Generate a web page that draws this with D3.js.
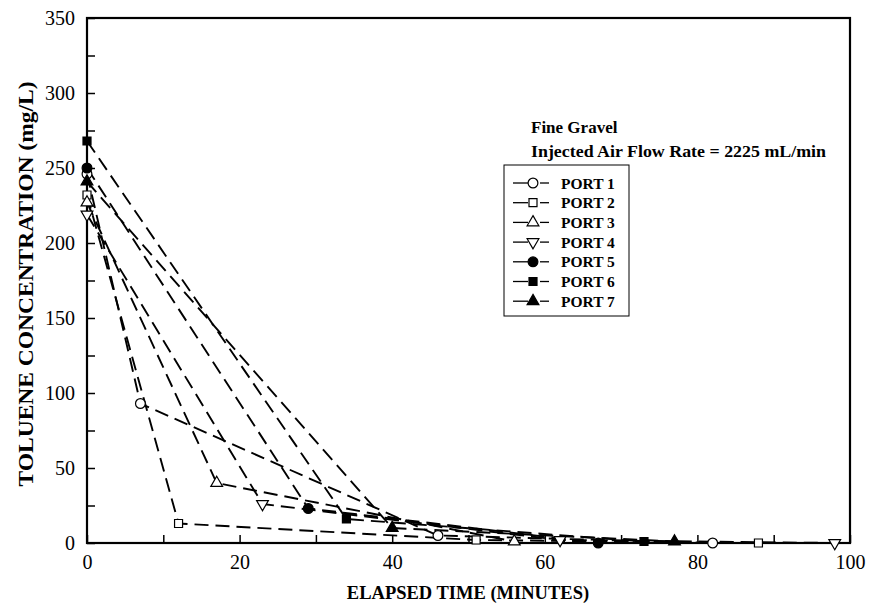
<!DOCTYPE html>
<html>
<head>
<meta charset="utf-8">
<script src="https://cdn.jsdelivr.net/npm/d3@7"></script>
<style>
  body { margin: 0; background: #fff; }
  text { font-family: "Liberation Serif", "Times New Roman", serif; fill: #000; }
</style>
</head>
<body>
<div id="chart"></div>
<script>
// toluene concentration (mg/L) vs elapsed time (minutes), per port
var ports = ["PORT 1", "PORT 2", "PORT 3", "PORT 4", "PORT 5", "PORT 6", "PORT 7"];
var port1 = [[0, 246], [7, 93], [46, 5], [82, 0]];
var port2 = [[0, 232], [12, 13], [51, 2], [88, 0]];
var port3 = [[0, 227], [17, 40], [56, 1]];
var port4 = [[0, 219], [23, 26], [62, 2], [98, 0]];
var port5 = [[0, 250], [29, 23], [67, 0]];
var port6 = [[0, 268], [34, 16], [73, 1]];
var port7 = [[0, 241], [40, 10], [77, 1]];
var xTicks = [0, 20, 40, 60, 80, 100];
var yTicks = [0, 50, 100, 150, 200, 250, 300, 350];

var series = [port1, port2, port3, port4, port5, port6, port7];
// marker shape + filled?
var markers = [
  {s: d3.symbolCircle, f: false}, {s: d3.symbolSquare, f: false},
  {s: d3.symbolTriangle, f: false}, {s: "down", f: false},
  {s: d3.symbolCircle, f: true}, {s: d3.symbolSquare, f: true},
  {s: d3.symbolTriangle, f: true}
];

var width = 869, height = 606;
var svg = d3.select("#chart").append("svg")
  .attr("width", width)
  .attr("height", height);

var x = d3.scaleLinear().domain([0, 100]).range([87, 850]);
var y = d3.scaleLinear().domain([0, 350]).range([543, 18]);

function symbolPath(m, size) {
  if (m.s === "down") return d3.symbol(d3.symbolTriangle, size)();
  return d3.symbol(m.s, size)();
}
function drawMarker(g, m, cx, cy) {
  var size = m.s === d3.symbolSquare ? 64 : (m.s === d3.symbolCircle ? 75 : 60);
  g.append("path")
    .attr("d", symbolPath(m, size))
    .attr("transform", "translate(" + cx + "," + cy + ")" + (m.s === "down" ? " rotate(180)" : ""))
    .attr("fill", m.f ? "#000" : "#fff")
    .attr("stroke", "#000")
    .attr("stroke-width", 1.2);
}

// frame
svg.append("rect")
  .attr("x", 87).attr("y", 18)
  .attr("width", 850 - 87).attr("height", 543 - 18)
  .attr("fill", "none").attr("stroke", "#000").attr("stroke-width", 2.2);

// axes (ticks pointing inward)
var xAxis = svg.append("g")
  .attr("transform", "translate(0,543)")
  .call(d3.axisTop(x).tickValues(d3.range(0, 101, 10)).tickSize(8).tickFormat(""));
var xLab = svg.append("g")
  .attr("transform", "translate(0,543)")
  .call(d3.axisBottom(x).tickValues(xTicks).tickSize(0).tickPadding(12));
var yAxis = svg.append("g")
  .attr("transform", "translate(87,0)")
  .call(d3.axisRight(y).tickValues(d3.range(0, 351, 25)).tickSize(8).tickFormat(""));
var yLab = svg.append("g")
  .attr("transform", "translate(87,0)")
  .call(d3.axisLeft(y).tickValues(yTicks).tickSize(0).tickPadding(12));

svg.selectAll(".domain").remove();
svg.selectAll(".tick line").attr("stroke", "#000").attr("stroke-width", 1.5);
svg.selectAll(".tick text")
  .style("font-family", "'Liberation Serif', serif")
  .style("font-size", "20px")
  .attr("fill", "#000");
xLab.selectAll(".tick text").attr("dy", "0.71em");

// axis titles
svg.append("text")
  .attr("x", 468).attr("y", 599)
  .attr("text-anchor", "middle")
  .style("font-size", "18.5px").style("font-weight", "bold")
  .text("ELAPSED TIME (MINUTES)");
svg.append("text")
  .attr("transform", "translate(33,284) rotate(-90)")
  .attr("text-anchor", "middle")
  .attr("textLength", 405)
  .attr("lengthAdjust", "spacingAndGlyphs")
  .style("font-size", "20px").style("font-weight", "bold")
  .text("TOLUENE CONCENTRATION (mg/L)");

// data lines
var line = d3.line().x(d => x(d[0])).y(d => y(d[1]));
var plot = svg.append("g");
series.forEach(function(s, i) {
  plot.append("path")
    .datum(s)
    .attr("d", line)
    .attr("fill", "none")
    .attr("stroke", "#000")
    .attr("stroke-width", 1.9)
    .attr("stroke-dasharray", "14,7");
});
series.forEach(function(s, i) {
  s.forEach(function(d) {
    drawMarker(plot, markers[i], x(d[0]), y(d[1]));
  });
});

// annotation
svg.append("text")
  .attr("x", 531).attr("y", 133)
  .style("font-size", "17px").style("font-weight", "bold")
  .text("Fine Gravel");
svg.append("text")
  .attr("x", 531).attr("y", 157)
  .attr("textLength", 295)
  .attr("lengthAdjust", "spacingAndGlyphs")
  .style("font-size", "17px").style("font-weight", "bold")
  .text("Injected Air Flow Rate = 2225 mL/min");

// legend
var legend = svg.append("g");
legend.append("rect")
  .attr("x", 504).attr("y", 165)
  .attr("width", 125).attr("height", 151)
  .attr("fill", "#fff").attr("stroke", "#000").attr("stroke-width", 1);
ports.forEach(function(p, i) {
  var ly = 183 + i * 19.7;
  legend.append("line")
    .attr("x1", 513).attr("x2", 528).attr("y1", ly).attr("y2", ly)
    .attr("stroke", "#000").attr("stroke-width", 1.3);
  legend.append("line")
    .attr("x1", 540).attr("x2", 549).attr("y1", ly).attr("y2", ly)
    .attr("stroke", "#000").attr("stroke-width", 1.3);
  drawMarker(legend, markers[i], 533, ly);
  legend.append("text")
    .attr("x", 561).attr("y", ly + 5.5)
    .style("font-size", "15.5px").style("font-weight", "bold")
    .text(p);
});
</script>
</body>
</html>
